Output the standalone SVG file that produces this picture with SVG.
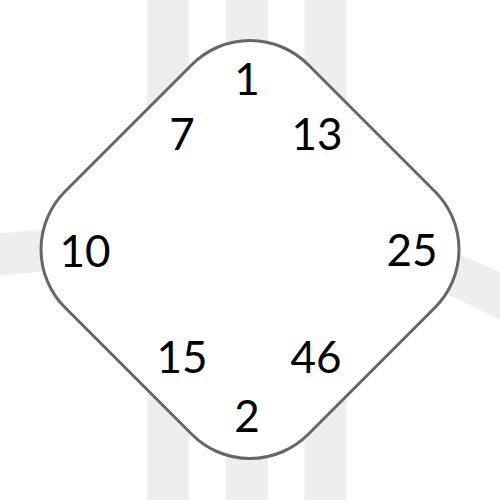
<svg xmlns="http://www.w3.org/2000/svg" width="500" height="500" viewBox="0 0 500 500">
<style>
.band{fill:none;stroke:#eeeeee;stroke-width:42}
.node{fill:#ffffff;stroke:#666666;stroke-width:3}
.lbl{font-family:Lato,"Liberation Sans",sans-serif;font-size:44px;fill:#000000;text-anchor:middle}
</style>
<rect width="500" height="500" fill="#ffffff"/>
<g id="connectors">
<line class="band" x1="168" y1="0" x2="168" y2="500"/>
<line class="band" x1="247" y1="0" x2="247" y2="500"/>
<line class="band" x1="325.5" y1="0" x2="325.5" y2="500"/>
<path class="band" d="M -10 255.5 C 60 248, 150 243, 250 244 C 350 245, 430 255, 510 302"/>
</g>
<g id="node-diamond">
<rect class="node" x="-171.8" y="-171.8" width="343.6" height="343.6" rx="82" ry="82" transform="translate(250,249.5) rotate(45)"/>
</g>
<g id="labels">
<text class="lbl" x="247" y="95">1</text>
<text class="lbl" x="182" y="150">7</text>
<text class="lbl" x="317" y="150">13</text>
<text class="lbl" x="85" y="267">10</text>
<text class="lbl" x="412" y="266">25</text>
<text class="lbl" x="182" y="373">15</text>
<text class="lbl" x="316" y="373">46</text>
<text class="lbl" x="247" y="432">2</text>
</g>
</svg>
